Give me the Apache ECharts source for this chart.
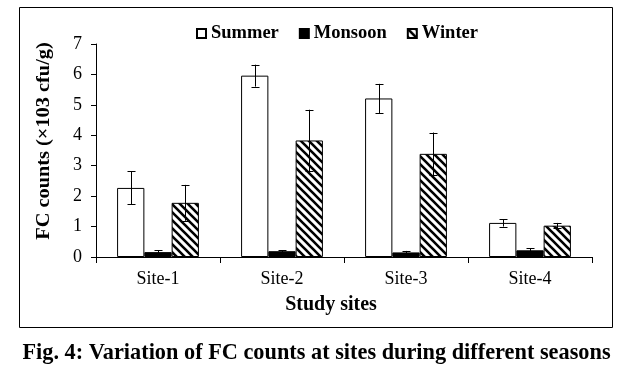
<!DOCTYPE html>
<html><head><meta charset="utf-8">
<script src="https://cdn.jsdelivr.net/npm/echarts@6/dist/echarts.min.js"></script>
<style>html,body{margin:0;padding:0;background:#fff}#c{width:633px;height:380px}</style>
</head><body><div id="c"></div>
<script>
const categories = ['Site-1', 'Site-2', 'Site-3', 'Site-4'];
const seasons = ['Summer', 'Monsoon', 'Winter'];
const summer = [2.27, 5.96, 5.21, 1.12];
const monsoon = [0.16, 0.19, 0.15, 0.22];
const winter = [1.78, 3.83, 3.39, 1.03];
const summerErr = [0.54, 0.36, 0.48, 0.12];
const monsoonErr = [0.06, 0.03, 0.05, 0.07];
const winterErr = [0.59, 1.01, 0.70, 0.09];
const yTicks = [0, 1, 2, 3, 4, 5, 6, 7];
const xTitle = 'Study sites';
const yTitle = 'FC counts (×103 cfu/g)';
const caption = 'Fig. 4: Variation of FC counts at sites during different seasons';

const values = [summer, monsoon, winter];
const errs = [summerErr, monsoonErr, winterErr];
const GAP = 0.34;

function hatch() {
  const s = 8, c = document.createElement('canvas');
  c.width = s; c.height = s;
  const g = c.getContext('2d');
  g.fillStyle = '#fff'; g.fillRect(0, 0, s, s);
  g.strokeStyle = '#000'; g.lineWidth = 2.6;
  g.beginPath();
  g.moveTo(-2, -2); g.lineTo(s + 2, s + 2);
  g.moveTo(-2 - s, -2); g.lineTo(2, s + 2);
  g.moveTo(-2 + s, -2); g.lineTo(s * 2 + 2, s + 2);
  g.stroke();
  return c;
}
const fills = ['#ffffff', '#000000', { image: hatch(), repeat: 'repeat' }];

const serif = '"Liberation Serif", "Times New Roman", serif';
const chart = echarts.init(document.getElementById('c'), null, { renderer: 'canvas' });

const series = [];
seasons.forEach((name, i) => {
  series.push({
    name: name, type: 'bar', data: values[i],
    barGap: 0, barCategoryGap: (GAP * 100) + '%',
    itemStyle: { color: fills[i], borderColor: '#000', borderWidth: 1 },
    silent: true
  });
});
seasons.forEach((name, i) => {
  series.push({
    name: 'err-' + name, type: 'custom', z: 10, silent: true,
    data: values[i].map((v, k) => [k, v, errs[i][k]]),
    renderItem: function (params, api) {
      const k = api.value(0), v = api.value(1), e = api.value(2);
      const band = api.size([1, 0])[0];
      const bw = band * (1 - GAP) / 3;
      const base = api.coord([k, v]);
      const x = Math.round(base[0] + (i - 1) * bw) + 0.5;
      const top = api.coord([k, v + e])[1];
      const bot = api.coord([k, v - e])[1];
      const cap = 4;
      const st = { stroke: '#000', lineWidth: 1 };
      return {
        type: 'group', children: [
          { type: 'line', shape: { x1: x, y1: top, x2: x, y2: bot }, style: st },
          { type: 'line', shape: { x1: x - cap, y1: Math.round(top) + 0.5, x2: x + cap, y2: Math.round(top) + 0.5 }, style: st },
          { type: 'line', shape: { x1: x - cap, y1: Math.round(bot) + 0.5, x2: x + cap, y2: Math.round(bot) + 0.5 }, style: st }
        ]
      };
    }
  });
});

chart.setOption({
  animation: false,
  backgroundColor: '#fff',
  textStyle: { fontFamily: serif, color: '#000' },
  legend: {
    data: seasons, top: 24, left: 196, padding: 0, itemWidth: 9, itemHeight: 9, itemGap: 20,
    icon: 'rect',
    textStyle: { fontFamily: serif, fontWeight: 'bold', fontSize: 18.5, color: '#000' }
  },
  grid: { left: 96, right: 41, top: 44, bottom: 123 },
  xAxis: {
    type: 'category', data: categories,
    axisLine: { lineStyle: { color: '#000', width: 1 } },
    axisTick: { show: true, length: 6, lineStyle: { color: '#000' } },
    axisLabel: { fontFamily: serif, fontSize: 18, color: '#000', margin: 13 }
  },
  yAxis: {
    type: 'value', min: yTicks[0], max: yTicks[yTicks.length - 1], interval: 1,
    axisLine: { show: true, lineStyle: { color: '#000', width: 1 } },
    axisTick: { show: true, length: 5, lineStyle: { color: '#000' } },
    splitLine: { show: false },
    axisLabel: { fontFamily: serif, fontSize: 18, color: '#000', margin: 14 }
  },
  graphic: [
    { type: 'rect', shape: { x: 19.5, y: 7.5, width: 593, height: 320 }, style: { fill: null, stroke: '#000', lineWidth: 1 }, silent: true },
    { type: 'text', x: 44, y: 141, rotation: Math.PI / 2, scaleX: 1.13, silent: true,
      style: { text: yTitle, font: 'bold 18px ' + serif, fill: '#000', align: 'center', verticalAlign: 'middle' } },
    { type: 'text', x: 331, y: 305, silent: true,
      style: { text: xTitle, font: 'bold 20px ' + serif, fill: '#000', align: 'center', verticalAlign: 'middle' } },
    { type: 'text', x: 316.5, y: 353, scaleX: 0.97, silent: true,
      style: { text: caption, font: 'bold 23px ' + serif, fill: '#000', align: 'center', verticalAlign: 'middle' } }
  ],
  series: series
});
</script></body></html>
